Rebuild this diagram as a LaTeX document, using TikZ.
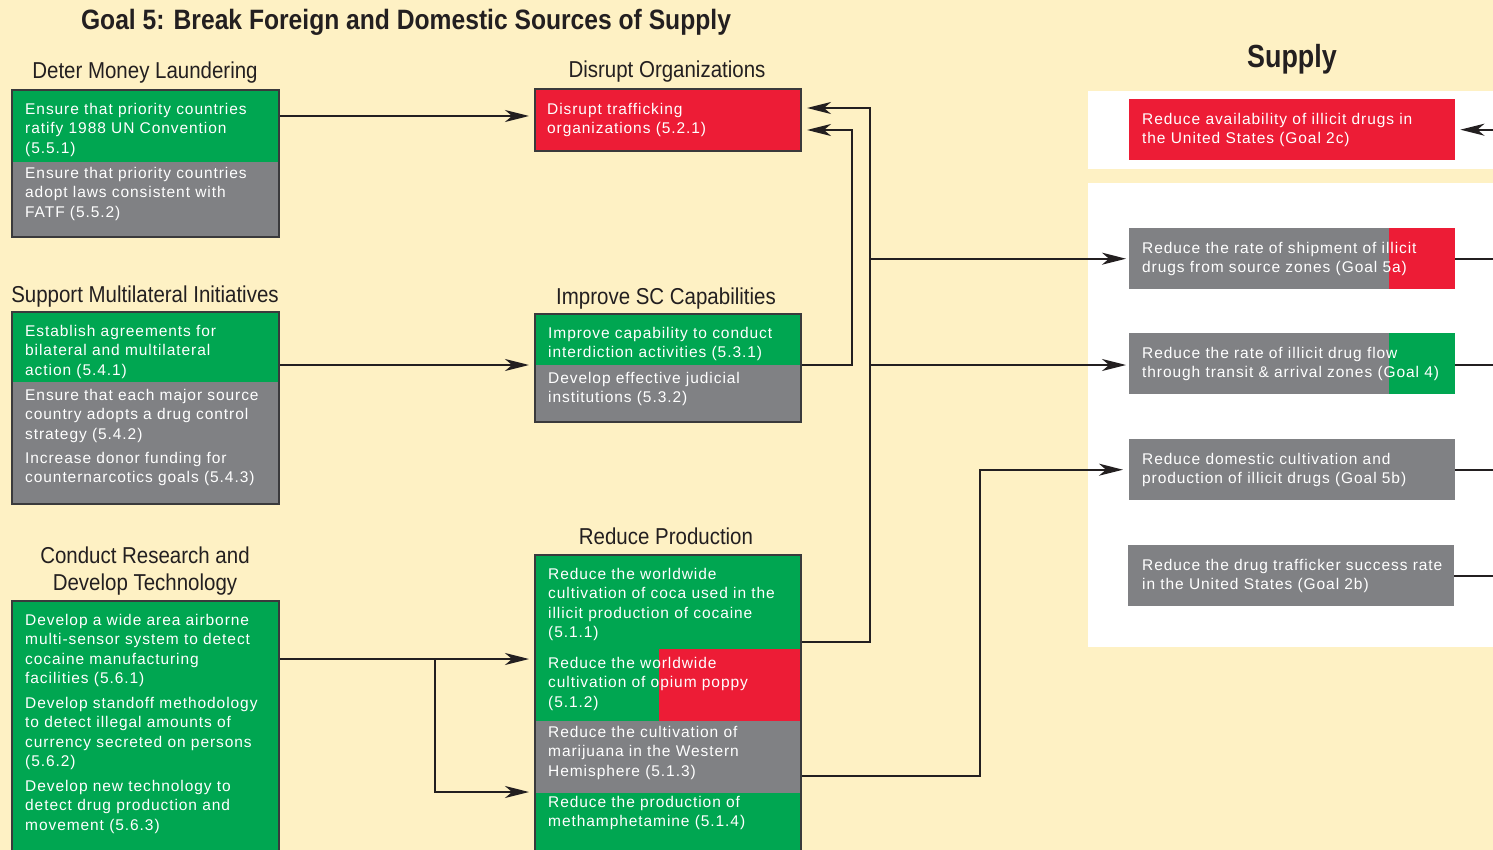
\documentclass[tikz,border=0pt]{standalone}
\usepackage{fontspec}
\usetikzlibrary{arrows.meta}
\newfontfamily\bodyfont[LetterSpace=6]{Liberation Sans}
\newfontfamily\headfont[FakeStretch=0.89]{Liberation Sans}
\newfontfamily\titlefont[FakeStretch=0.88]{Liberation Sans Bold}
\newfontfamily\supplyfont[FakeStretch=0.84]{Liberation Sans Bold}
\definecolor{bgc}{HTML}{FEF1C4}
\definecolor{cgreen}{HTML}{00A651}
\definecolor{cred}{HTML}{ED1C36}
\definecolor{cgray}{HTML}{808184}
\definecolor{framec}{HTML}{3A3A3C}
\definecolor{linec}{HTML}{231F20}
\definecolor{headc}{HTML}{231F20}
\tikzset{
  frame/.style={draw=framec, line width=2pt, inner sep=0pt, anchor=north west},
  goalbox/.style={inner sep=0pt, anchor=north west},
  txt/.style={anchor=north west, inner sep=0pt, align=left, text=white, yshift=7.6pt,
    font=\bodyfont\fontsize{15.5}{19.5}\selectfont},
  head/.style={anchor=base, inner sep=0pt, text=headc, font=\headfont\fontsize{23}{27}\selectfont},
  conn/.style={draw=linec, line width=2pt},
  arr/.style={conn, -{Stealth[length=24pt,width=12pt,inset=7pt]}},
}
\begin{document}
\begin{tikzpicture}[x=1pt,y=-1pt]
\useasboundingbox (0,0) rectangle (1493,850);
\clip (0,0) rectangle (1493,850);
\fill[bgc] (0,0) rectangle (1493,850);
% white panels of the supply column
\fill[white] (1088,91) rectangle (1493,169);
\fill[white] (1088,183) rectangle (1493,647);

% section fills
\fill[cgreen] (11,89) rectangle (278,162);
\fill[cgray] (11,162) rectangle (278,236);
\fill[cgreen] (11,311) rectangle (278,382);
\fill[cgray] (11,382) rectangle (278,503);
\fill[cgreen] (11,600) rectangle (278,870);
\fill[cred] (534,88) rectangle (800,150);
\fill[cgreen] (534,313) rectangle (800,365);
\fill[cgray] (534,365) rectangle (800,421);
\fill[cgreen] (534,554) rectangle (800,649);
\fill[cgreen] (534,649) rectangle (659,721);
\fill[cred] (659,649) rectangle (800,721);
\fill[cgray] (534,721) rectangle (800,793);
\fill[cgreen] (534,793) rectangle (800,870);
\fill[cred] (1129,99) rectangle (1455,160);
\fill[cgray] (1129,228) rectangle (1389,289);
\fill[cred] (1389,228) rectangle (1455,289);
\fill[cgray] (1129,333) rectangle (1389,394);
\fill[cgreen] (1389,333) rectangle (1455,394);
\fill[cgray] (1129,439) rectangle (1455,500);
\fill[cgray] (1128,545) rectangle (1454,606);

% framed boxes
\node[frame, minimum width=267pt, minimum height=147pt] (boxA) at (11,89) {};
\node[frame, minimum width=267pt, minimum height=192pt] (boxB) at (11,311) {};
\node[frame, minimum width=267pt, minimum height=270pt] (boxC) at (11,600) {};
\node[frame, minimum width=266pt, minimum height=62pt] (boxD) at (534,88) {};
\node[frame, minimum width=266pt, minimum height=108pt] (boxE) at (534,313) {};
\node[frame, minimum width=266pt, minimum height=316pt] (boxF) at (534,554) {};
% supply goal boxes
\node[goalbox, minimum width=326pt, minimum height=61pt] (boxG) at (1129,99) {};
\node[goalbox, minimum width=326pt, minimum height=61pt] (boxH) at (1129,228) {};
\node[goalbox, minimum width=326pt, minimum height=61pt] (boxI) at (1129,333) {};
\node[goalbox, minimum width=326pt, minimum height=61pt] (boxJ) at (1129,439) {};
\node[goalbox, minimum width=326pt, minimum height=61pt] (boxK) at (1128,545) {};

% headings
\node[anchor=base, inner sep=0pt, text=headc, font=\titlefont\fontsize{28}{32}\selectfont] (title) at (406,29.5)
  {Goal 5: Break Foreign and Domestic Sources of Supply};
\node[anchor=base, inner sep=0pt, text=headc, font=\supplyfont\fontsize{32}{36}\selectfont] (supply) at (1292,68) {Supply};
\node[head] (hA) at (145,79) {Deter Money Laundering};
\node[head] (hD) at (667,78) {Disrupt Organizations};
\node[head] (hB) at (145,302) {Support Multilateral Initiatives};
\node[head] (hE) at (666,304) {Improve SC Capabilities};
\node[head] (hC1) at (145,563) {Conduct Research and};
\node[head] (hC2) at (145,590) {Develop Technology};
\node[head] (hF) at (666,544) {Reduce Production};

% box texts
\node[txt] (tA1) at (25,108) {\strut Ensure that priority countries\\ratify 1988 UN Convention\\(5.5.1)};
\node[txt] (tA2) at (25,172) {\strut Ensure that priority countries\\adopt laws consistent with\\FATF (5.5.2)};
\node[txt] (tB1) at (25,330) {\strut Establish agreements for\\bilateral and multilateral\\action (5.4.1)};
\node[txt] (tB2) at (25,394) {\strut Ensure that each major source\\country adopts a drug control\\strategy (5.4.2)};
\node[txt] (tB3) at (25,457) {\strut Increase donor funding for\\counternarcotics goals (5.4.3)};
\node[txt] (tC1) at (25,619) {\strut Develop a wide area airborne\\multi-sensor system to detect\\cocaine manufacturing\\facilities (5.6.1)};
\node[txt] (tC2) at (25,702) {\strut Develop standoff methodology\\to detect illegal amounts of\\currency secreted on persons\\(5.6.2)};
\node[txt] (tC3) at (25,785) {\strut Develop new technology to\\detect drug production and\\movement (5.6.3)};
\node[txt] (tD) at (547,108) {\strut Disrupt trafficking\\organizations (5.2.1)};
\node[txt] (tE1) at (548,332) {\strut Improve capability to conduct\\interdiction activities (5.3.1)};
\node[txt] (tE2) at (548,377) {\strut Develop effective judicial\\institutions (5.3.2)};
\node[txt] (tF1) at (548,573) {\strut Reduce the worldwide\\cultivation of coca used in the\\illicit production of cocaine\\(5.1.1)};
\node[txt] (tF2) at (548,662) {\strut Reduce the worldwide\\cultivation of opium poppy\\(5.1.2)};
\node[txt] (tF3) at (548,731) {\strut Reduce the cultivation of\\marijuana in the Western\\Hemisphere (5.1.3)};
\node[txt] (tF4) at (548,801) {\strut Reduce the production of\\methamphetamine (5.1.4)};
\node[txt] (tG) at (1142,118) {\strut Reduce availability of illicit drugs in\\the United States (Goal 2c)};
\node[txt] (tH) at (1142,247) {\strut Reduce the rate of shipment of illicit\\drugs from source zones (Goal 5a)};
\node[txt] (tI) at (1142,352) {\strut Reduce the rate of illicit drug flow\\through transit \& arrival zones (Goal 4)};
\node[txt] (tJ) at (1142,458) {\strut Reduce domestic cultivation and\\production of illicit drugs (Goal 5b)};
\node[txt] (tK) at (1142,564) {\strut Reduce the drug trafficker success rate\\in the United States (Goal 2b)};

% connector levels and junctions
\coordinate (yA) at (0,116);
\coordinate (yB) at (0,365);
\coordinate (yC) at (0,659);
\coordinate (yC2) at (0,792);
\coordinate (yDa) at (0,108);
\coordinate (yDb) at (0,130);
\coordinate (yFa) at (0,642);
\coordinate (yFb) at (0,776);
\coordinate (split) at (435,659);
\coordinate (jE) at (852,0);
\coordinate (trunk) at (870,0);
\coordinate (jF) at (980,0);
\coordinate (edge) at (1493,0);

% connectors
\draw[arr, shorten >=5pt] (boxA.east |- yA) -- (boxD.west |- yA);
\draw[arr, shorten >=5pt] (boxB.east |- yB) -- (boxE.west |- yB);
\draw[arr, shorten >=5pt] (boxC.east |- yC) -- (boxF.west |- yC);
\draw[arr, shorten >=5pt] (split) |- (boxF.west |- yC2);
\draw[arr, shorten >=5pt] (boxE.east |- yB) -| (jE |- yDb) -- (boxD.east |- yDb);
\draw[arr, shorten >=5pt] (boxF.east |- yFa) -| (trunk |- yDa) -- (boxD.east |- yDa);
\draw[arr, shorten >=3pt] (trunk |- boxH.west) -- (boxH.west);
\draw[arr, shorten >=3pt] (trunk |- yB) -- (boxI.west |- yB);
\draw[arr, shorten >=6pt] (boxF.east |- yFb) -| (jF |- boxJ.west) -- (boxJ.west);
\draw[arr, shorten >=5pt] (edge |- boxG.east) -- (boxG.east);
\draw[conn] (boxH.east) -- (edge |- boxH.east);
\draw[conn] (boxI.east |- yB) -- (edge |- yB);
\draw[conn] (boxJ.east) -- (edge |- boxJ.east);
\draw[conn] (boxK.east) -- (edge |- boxK.east);
\end{tikzpicture}
\end{document}
